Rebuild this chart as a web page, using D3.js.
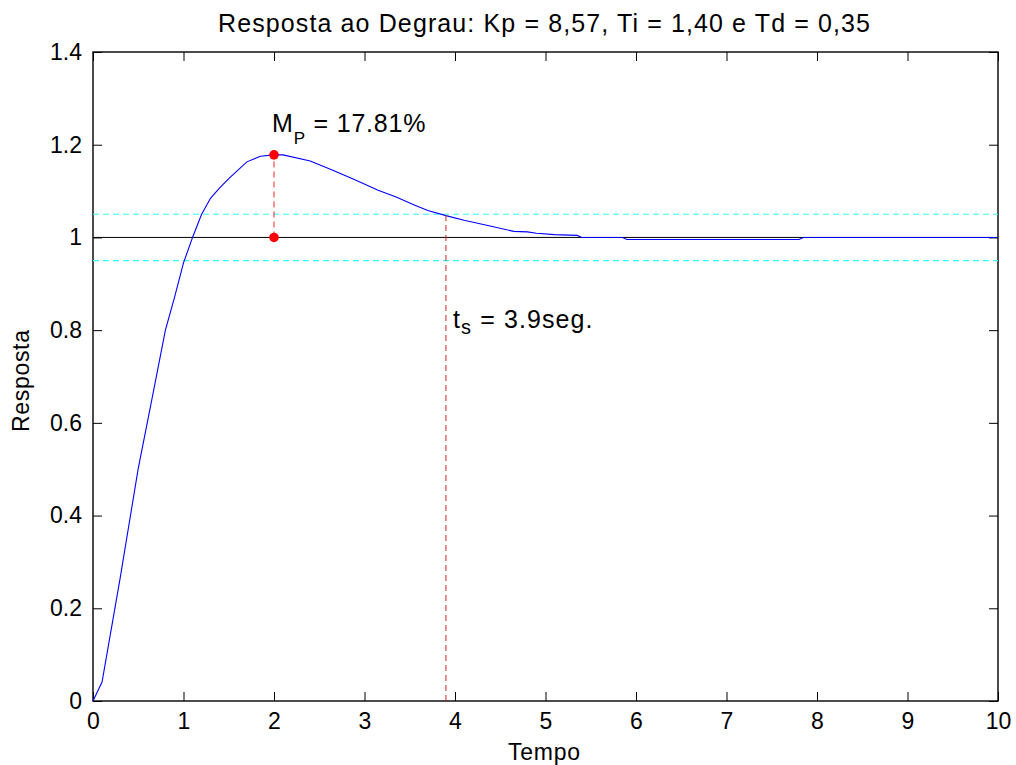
<!DOCTYPE html>
<html>
<head>
<meta charset="utf-8">
<script src="https://cdn.jsdelivr.net/npm/d3@7"></script>
<style>
  html, body { margin: 0; padding: 0; background: #fff; }
  svg { display: block; font-family: "Liberation Sans", Arial, Helvetica, sans-serif; }
</style>
</head>
<body>
<svg id="chart" width="1016" height="765"></svg>
<script>
// ---- data ----
const tempo = [0, 0.1, 0.3, 0.5, 0.65, 0.8, 0.9, 1.0, 1.1, 1.2, 1.3, 1.4, 1.5, 1.7, 1.85, 2.0, 2.1, 2.4, 2.65, 2.9, 3.15, 3.35, 3.55, 3.7, 3.9, 4.1, 4.4, 4.65, 4.8, 4.9, 5.1, 5.35, 5.4, 5.85, 5.9, 7.8, 7.85, 10];
const resposta = [0, 0.041, 0.265, 0.502, 0.65, 0.80, 0.87, 0.945, 1.0, 1.05, 1.085, 1.107, 1.127, 1.163, 1.175, 1.1781, 1.178, 1.165, 1.145, 1.124, 1.102, 1.087, 1.070, 1.058, 1.047, 1.037, 1.024, 1.013, 1.012, 1.009, 1.006, 1.0044, 1.0, 1.0, 0.9956, 0.9956, 1.0, 1.0];
const xTicks = [0, 1, 2, 3, 4, 5, 6, 7, 8, 9, 10];
const yTicks = [0, 0.2, 0.4, 0.6, 0.8, 1.0, 1.2, 1.4];
const referencia = 1.0;
const faixa = [1.05, 0.95];
const tPico = 2.0, yPico = 1.1781;
const tAcomod = 3.9;
const titulo = "Resposta ao Degrau: Kp = 8,57, Ti = 1,40 e Td = 0,35";
const rotuloX = "Tempo", rotuloY = "Resposta";
const textoMp = ["M", "P", " = 17.81%"];
const textoTs = ["t", "s", " = 3.9seg."];

// ---- layout ----
const svg = d3.select("#chart");
const L = 93, R = 998, T = 52, B = 701;
const x = d3.scaleLinear().domain([0, 10]).range([L, R]);
const y = d3.scaleLinear().domain([0, 1.4]).range([B, T]);
const fmt = d => String(+d.toFixed(1));
const tickLen = 9;

// frame
svg.append("rect").attr("x", L).attr("y", T).attr("width", R - L).attr("height", B - T)
  .attr("fill", "none").attr("stroke", "#000").attr("stroke-width", 1.4);

const styleAxis = g => {
  g.select(".domain").remove();
  g.selectAll(".tick line").attr("stroke", "#000").attr("stroke-width", 1);
  g.selectAll(".tick text").attr("fill", "#000").attr("font-size", 23)
   .attr("font-family", "Liberation Sans, Arial, sans-serif");
};
svg.append("g").attr("transform", `translate(0,${B})`)
  .call(d3.axisBottom(x).tickValues(xTicks).tickFormat(fmt).tickSizeInner(-tickLen).tickSizeOuter(0).tickPadding(12))
  .call(styleAxis);
svg.append("g").attr("transform", `translate(0,${T})`)
  .call(d3.axisTop(x).tickValues(xTicks).tickFormat("").tickSizeInner(-tickLen).tickSizeOuter(0))
  .call(styleAxis);
svg.append("g").attr("transform", `translate(${L},0)`)
  .call(d3.axisLeft(y).tickValues(yTicks).tickFormat(fmt).tickSizeInner(-tickLen).tickSizeOuter(0).tickPadding(11))
  .call(styleAxis);
svg.append("g").attr("transform", `translate(${R},0)`)
  .call(d3.axisRight(y).tickValues(yTicks).tickFormat("").tickSizeInner(-tickLen).tickSizeOuter(0))
  .call(styleAxis);

// band lines
svg.selectAll(".faixa").data(faixa).join("line")
  .attr("x1", L).attr("x2", R).attr("y1", d => y(d)).attr("y2", d => y(d))
  .attr("stroke", "#33ffff").attr("stroke-width", 1.2).attr("stroke-dasharray", "6,4");
// reference line
svg.append("line").attr("x1", L).attr("x2", R).attr("y1", y(referencia)).attr("y2", y(referencia))
  .attr("stroke", "#000").attr("stroke-width", 1);

// response curve
const pts = tempo.map((t, i) => [t, resposta[i]]);
svg.append("path").datum(pts)
  .attr("fill", "none").attr("stroke", "#0000ff").attr("stroke-width", 1.1)
  .attr("d", d3.line().x(d => x(d[0])).y(d => y(d[1])));

// settling time dashed line
svg.append("line").attr("x1", x(tAcomod)).attr("x2", x(tAcomod)).attr("y1", y(0)).attr("y2", y(faixa[0]))
  .attr("stroke", "#d02020").attr("stroke-width", 1).attr("stroke-dasharray", "6,4");
// peak dashed line
svg.append("line").attr("x1", x(tPico)).attr("x2", x(tPico)).attr("y1", y(referencia)).attr("y2", y(yPico))
  .attr("stroke", "#ff2020").attr("stroke-width", 1).attr("stroke-dasharray", "6,4");
// peak markers
svg.selectAll(".pico").data([[tPico, yPico], [tPico, referencia]]).join("circle")
  .attr("cx", d => x(d[0])).attr("cy", d => y(d[1])).attr("r", 4.8).attr("fill", "#ff0000");

// annotations
const mp = svg.append("text").attr("x", 272).attr("y", 132).attr("font-size", 25)
  .attr("letter-spacing", 0.8).attr("fill", "#000");
mp.append("tspan").text(textoMp[0]);
mp.append("tspan").attr("dy", 12).attr("font-size", 17).text(textoMp[1]);
mp.append("tspan").attr("dy", -12).text(textoMp[2]);

const ts = svg.append("text").attr("x", 453).attr("y", 328).attr("font-size", 25)
  .attr("letter-spacing", 1.1).attr("fill", "#000");
ts.append("tspan").text(textoTs[0]);
ts.append("tspan").attr("dy", 6).attr("font-size", 20).text(textoTs[1]);
ts.append("tspan").attr("dy", -6).text(textoTs[2]);

// title and axis labels
svg.append("text").attr("x", 544).attr("y", 32).attr("text-anchor", "middle")
  .attr("font-size", 25).attr("textLength", 652).attr("lengthAdjust", "spacing")
  .attr("fill", "#000").text(titulo);
svg.append("text").attr("x", 544).attr("y", 760).attr("text-anchor", "middle")
  .attr("font-size", 23).attr("textLength", 72).attr("lengthAdjust", "spacing")
  .attr("fill", "#000").text(rotuloX);
svg.append("text").attr("transform", `translate(28.5,381) rotate(-90)`).attr("text-anchor", "middle")
  .attr("font-size", 23).attr("textLength", 102).attr("lengthAdjust", "spacing")
  .attr("fill", "#000").text(rotuloY);
</script>
</body>
</html>
